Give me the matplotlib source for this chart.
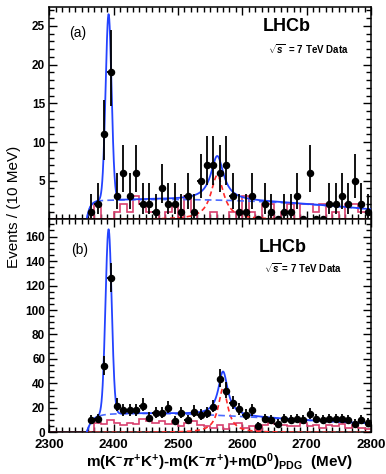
import numpy as np
import matplotlib
matplotlib.use('Agg')
import matplotlib.pyplot as plt
import matplotlib.transforms as mtransforms
from matplotlib.ticker import MultipleLocator, FixedLocator

plt.rcParams['font.family'] = ['Liberation Sans', 'DejaVu Sans']
plt.rcParams['mathtext.fontset'] = 'custom'
plt.rcParams['mathtext.rm'] = 'Liberation Sans:bold'
plt.rcParams['mathtext.bf'] = 'Liberation Sans:bold'
plt.rcParams['mathtext.it'] = 'Liberation Sans:bold:italic'
plt.rcParams['mathtext.sf'] = 'Liberation Sans:bold'

# ---------------- data ----------------
bin_edges = np.arange(2300, 2801, 10)

# data points (bin centres from 2365 to 2795)
data_mass = [2365, 2375, 2385, 2395, 2405, 2415, 2425, 2435, 2445, 2455,
             2465, 2475, 2485, 2495, 2505, 2515, 2525, 2535, 2545, 2555,
             2565, 2575, 2585, 2595, 2605, 2615, 2625, 2635, 2645, 2655,
             2665, 2675, 2685, 2695, 2705, 2715, 2725, 2735, 2745, 2755,
             2765, 2775, 2785, 2795]
counts_a = [1, 2, 11, 19, 3, 6, 3, 6, 2, 2,
            1, 4, 2, 2, 1, 3, 1, 5, 7, 7,
            6, 7, 3, 1, 1, 3, 0, 2, 1, 0,
            1, 1, 3, 0, 6, 0, 0, 2, 2, 3,
            2, 5, 2, 1]
counts_b = [10, 11, 54, 126, 22, 18, 18, 18, 22, 12,
            16, 16, 20, 9, 16, 10, 17, 14, 16, 21,
            44, 34, 24, 19, 14, 18, 5, 11, 10, 7,
            11, 10, 11, 10, 15, 11, 10, 11, 11, 11,
            10, 7, 10, 8]

# wrong-sign / background histograms (all 50 bins, 2300-2800)
ws_a = [0, 0, 0, 0, 0, 0, 0,
        2, 0, 0, 1, 2, 1, 3, 2, 1, 1,
        0, 1, 2, 0, 3, 1, 0, 0, 1, 0,
        0, 1, 0, 3, 1, 0, 2, 2, 0, 1,
        2, 0, 2, 2, 1, 2, 0, 1, 0, 2,
        2, 1, 1]
ws_b = [0, 0, 0, 0, 0, 0, 0,
        8, 7, 10, 8, 6, 8, 7, 11, 9, 8,
        9, 7, 9, 5, 8, 9, 6, 5, 4, 6,
        3, 7, 8, 4, 5, 2, 6, 8, 7, 6,
        5, 5, 8, 5, 6, 4, 6, 5, 7, 4,
        6, 4, 3]

# fit model parameters
threshold = 2358.0
thr_width = {'a': 5.0, 'b': 8.0}
bkg_poly = {'a': [2.5, 0.2, -0.125, 0.0], 'b': [15.2, 1.558, -1.7875, 0.229]}
peak1 = {'a': (2392.0, 4.6, 24.0), 'b': (2392.0, 4.8, 151.0)}   # mass, sigma, amplitude
peak2 = {'a': (2561.0, 24.0, 5.7), 'b': (2570.0, 18.0, 36.0)}   # mass, width, amplitude
ylims = {'a': 27.4, 'b': 174.0}

BLUE = '#2443ff'
BLUE_D = '#4d6bff'
RED = '#ff2a2a'
PINK = '#d8406e'


def gehrels(n):
    n = np.asarray(n, float)
    up = np.sqrt(n + 0.75) + 1.0
    lo = np.where(n > 0, np.sqrt(np.clip(n - 0.25, 0, None)), 0.0)
    up = np.where(n > 0, up, 0.0)
    return lo, up


fig = plt.figure(figsize=(3.86, 4.74), dpi=100)
ax_a = fig.add_axes([0.128, 0.537, 0.833, 0.4477])
ax_b = fig.add_axes([0.128, 0.0876, 0.833, 0.4496])

for key, ax, counts, ws in (('a', ax_a, counts_a, ws_a), ('b', ax_b, counts_b, ws_b)):
    ax.stairs(ws, bin_edges, baseline=None, color=PINK, lw=1.2, zorder=2)

    m = np.linspace(threshold, 2800, 1500)
    t = (m - 2400.0) / 100.0
    p = bkg_poly[key]
    bkg = (p[0] + p[1] * t + p[2] * t ** 2 + p[3] * t ** 3) * (1 - np.exp(-(m - threshold) / thr_width[key]))
    M1, s1, A1 = peak1[key]
    sig1 = A1 * np.exp(-0.5 * ((m - M1) / s1) ** 2)
    M2, G2, A2 = peak2[key]
    sig2 = A2 / (1 + ((m - M2) / (G2 / 2)) ** 2)
    ax.plot(m, sig2, color=RED, lw=1.2, ls=(0, (3, 2)), zorder=3)
    ax.plot(m, bkg, color=BLUE_D, lw=1.2, ls=(0, (4, 2.5)), zorder=3)
    ax.plot(m, bkg + sig1 + sig2, color=BLUE, lw=1.3, zorder=4)

    lo, up = gehrels(counts)
    ax.errorbar(data_mass, counts, yerr=[lo, up], xerr=5, fmt='o', color='black',
                ms=4.4, elinewidth=1.3, capsize=0, zorder=5)

    ax.set_xlim(2300, 2800)
    ax.set_ylim(0, ylims[key])
    ax.xaxis.set_major_locator(MultipleLocator(100))
    ax.xaxis.set_minor_locator(MultipleLocator(10))
    ax.tick_params(which='both', direction='in', top=True, right=True, width=1.0)
    ax.tick_params(which='major', length=6)
    ax.tick_params(which='minor', length=3.5)
    for sp in ax.spines.values():
        sp.set_linewidth(1.1)

ax_a.yaxis.set_major_locator(FixedLocator([5, 10, 15, 20, 25]))
ax_a.yaxis.set_minor_locator(MultipleLocator(1))
ax_a.tick_params(axis='x', labelbottom=False)
ax_a.tick_params(axis='y', labelsize=8.5, pad=3)
ax_b.yaxis.set_major_locator(MultipleLocator(20))
ax_b.yaxis.set_minor_locator(MultipleLocator(5))
ax_b.tick_params(axis='y', labelsize=8.5, pad=3)
ax_b.tick_params(axis='x', labelsize=9.5, pad=4.5)
fig.canvas.draw()
for ax in (ax_a, ax_b):
    for lab in ax.get_xticklabels() + ax.get_yticklabels():
        lab.set_fontweight('bold')
# first x label sits slightly to the right, as in the reference
first = ax_b.get_xticklabels()[0]
first.set_transform(first.get_transform() + mtransforms.ScaledTranslation(5 / 100, 0, fig.dpi_scale_trans))

ax_a.text(0.0887, 0.879, '(a)', transform=ax_a.transAxes, ha='center', va='center', fontsize=10)
ax_a.text(0.739, 0.907, 'LHCb', transform=ax_a.transAxes, ha='center', va='center',
          fontsize=13, fontweight='bold')
ax_a.text(0.807, 0.803, r'$\sqrt{s}$  = 7 TeV Data', transform=ax_a.transAxes, ha='center',
          va='center', fontsize=7, fontweight='bold')
ax_b.text(0.095, 0.856, '(b)', transform=ax_b.transAxes, ha='center', va='center', fontsize=10)
ax_b.text(0.726, 0.870, 'LHCb', transform=ax_b.transAxes, ha='center', va='center',
          fontsize=13, fontweight='bold')
ax_b.text(0.789, 0.772, r'$\sqrt{s}$ = 7 TeV Data', transform=ax_b.transAxes, ha='center',
          va='center', fontsize=7, fontweight='bold')

fig.text(0.036, 0.563, 'Events / (10 MeV)', rotation=90, ha='center', va='center', fontsize=11)
fig.text(0.570, 0.025, r'm(K$^{-}\pi^{+}$K$^{+}$)-m(K$^{-}\pi^{+}$)+m(D$^{0}$)$_{\mathrm{PDG}}$  (MeV)',
         ha='center', va='center', fontsize=11, fontweight='bold')

fig.savefig('out.png', dpi=100)
